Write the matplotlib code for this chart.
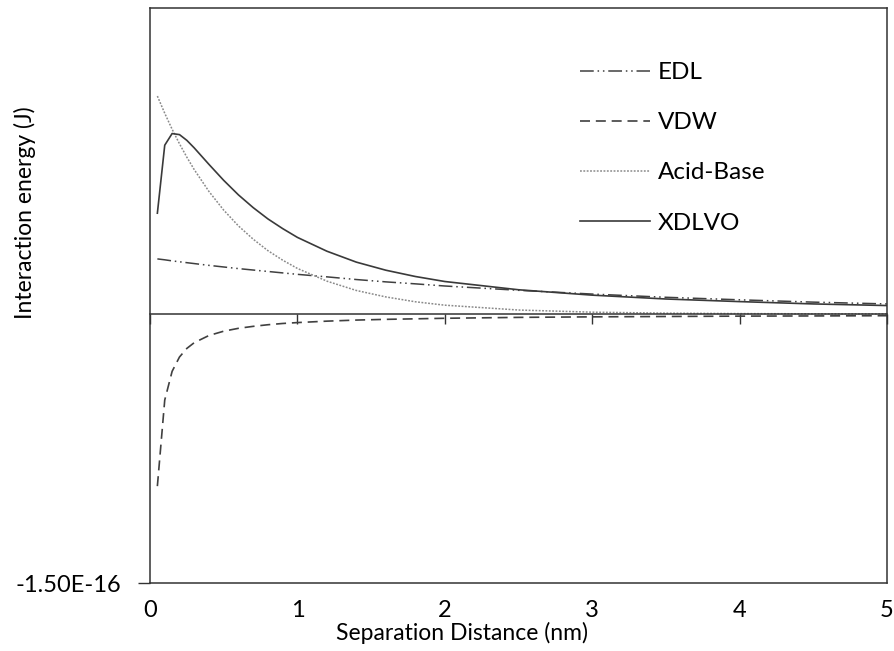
import matplotlib
matplotlib.use("Agg")
import matplotlib.pyplot as plt
import numpy as np

# separation distance (nm)
DIST = [0.05, 0.1, 0.15, 0.2, 0.25, 0.3, 0.4, 0.5, 0.6, 0.7, 0.8, 0.9, 1.0,
        1.2, 1.4, 1.6, 1.8, 2.0, 2.5, 3.0, 3.5, 4.0, 4.5, 5.0]

# interaction energies, units of 1e-16 J
EDL = [0.307, 0.302, 0.296, 0.291, 0.286, 0.281, 0.271, 0.262, 0.253, 0.245,
       0.237, 0.229, 0.221, 0.207, 0.192, 0.179, 0.168, 0.156, 0.132, 0.111,
       0.093, 0.079, 0.066, 0.056]
VDW = [-0.96, -0.48, -0.32, -0.24, -0.192, -0.16, -0.12, -0.096, -0.08, -0.069,
       -0.06, -0.053, -0.048, -0.04, -0.034, -0.03, -0.027, -0.024, -0.019,
       -0.016, -0.014, -0.012, -0.011, -0.0096]
ACID_BASE = [1.215, 1.119, 1.030, 0.949, 0.874, 0.805, 0.683, 0.579, 0.491,
             0.417, 0.353, 0.300, 0.254, 0.183, 0.131, 0.095, 0.068, 0.049,
             0.022, 0.010, 0.0045, 0.002, 0.001, 0.0004]
XDLVO = [0.562, 0.941, 1.006, 1.000, 0.968, 0.926, 0.834, 0.745, 0.664, 0.593,
         0.530, 0.476, 0.427, 0.350, 0.289, 0.244, 0.209, 0.181, 0.135, 0.105,
         0.0835, 0.069, 0.056, 0.047]

X_TICKS = [0, 1, 2, 3, 4, 5]
Y_MIN = -1.5e-16
Y_MAX = 1.706e-16

W, H = 895, 651


def main() -> None:
    plt.rcParams["font.family"] = ["Lato", "DejaVu Sans"]
    fig = plt.figure(figsize=[W / 100, H / 100], dpi=100)
    ax = fig.add_axes([150 / W, 1 - 583 / H, 737 / W, 575 / H])

    x = np.array(DIST)
    s = 1e-16
    ax.plot(x, np.array(EDL) * s, color="#404040", lw=1.1,
            linestyle=(0, (9, 2.5, 1, 2.5, 1, 2.5)), label="EDL")
    ax.plot(x, np.array(VDW) * s, color="#404040", lw=1.2,
            linestyle=(0, (6, 3.5)), label="VDW")
    ax.plot(x, np.array(ACID_BASE) * s, color="#8a8a8a", lw=1.1,
            linestyle=(0, (1.2, 1.0)), label="Acid-Base")
    ax.plot(x, np.array(XDLVO) * s, color="#3a3a3a", lw=1.2,
            linestyle="-", label="XDLVO")

    ax.set_xlim(0, 5)
    ax.set_ylim(Y_MIN, Y_MAX)

    # horizontal axis crossing at zero, ticks pointing down
    ax.spines["bottom"].set_position(("data", 0))
    ax.set_xticks(X_TICKS)
    ax.tick_params(axis="x", direction="out", length=7, width=1,
                   labelbottom=False, color="#333333")
    for sp in ax.spines.values():
        sp.set_color("#333333")
        sp.set_linewidth(1.1)

    # labels along the bottom border of the plot area
    sec = ax.secondary_xaxis("bottom")
    sec.set_xticks(X_TICKS)
    sec.tick_params(length=0, pad=12, labelsize=17)
    sec.spines["bottom"].set_color("#333333")
    sec.spines["bottom"].set_linewidth(1.1)

    ax.set_yticks([Y_MIN])
    ax.set_yticklabels(["-1.50E-16"])
    ax.tick_params(axis="y", direction="out", length=9, width=1,
                   labelsize=17, pad=12, color="#333333")

    fig.text(462 / W, 1 - 633 / H, "Separation Distance (nm)",
             ha="center", va="center", fontsize=16.5)
    fig.text(25 / W, 1 - 213 / H, "Interaction energy (J)",
             ha="center", va="center", rotation=90, fontsize=16.5)

    ax.legend(loc="upper left", bbox_to_anchor=(580 / W, 1 - 62 / H),
              bbox_transform=fig.transFigure, frameon=False, fontsize=17.5,
              handlelength=2.9, handletextpad=0.3, labelspacing=1.2,
              borderpad=0, borderaxespad=0)

    fig.savefig("out.png", dpi=100)


if __name__ == "__main__":
    main()
